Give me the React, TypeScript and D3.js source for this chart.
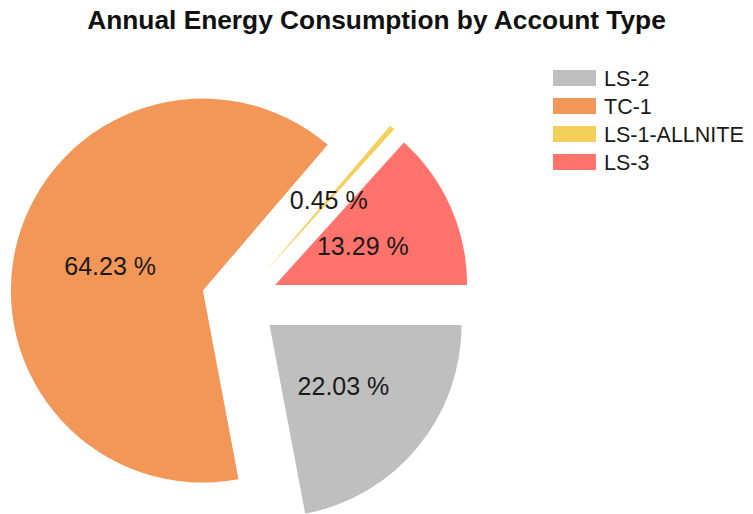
import React, { useEffect, useRef } from "react";
import * as d3 from "d3";

const accountTypes = ["LS-2", "TC-1", "LS-1-ALLNITE", "LS-3"];
const shares = [22.03, 64.23, 0.45, 13.29];
const sliceColors = ["#bfbfbf", "#f39758", "#f5cf5a", "#ff736c"];

const App = () => {
  const ref = useRef<SVGSVGElement | null>(null);

  useEffect(() => {
    const width = 753;
    const height = 514;
    const radius = 192;
    const pull = 0.2 * radius; // exploded slices
    const cx = 240;
    const cy = 300.5;

    const svg = d3.select(ref.current);
    svg.selectAll("*").remove();
    svg
      .attr("width", width)
      .attr("height", height)
      .attr("font-family", "'Liberation Sans', Arial, sans-serif");

    svg.append("text")
      .attr("x", width / 2)
      .attr("y", 29)
      .attr("text-anchor", "middle")
      .attr("font-size", 26.3)
      .attr("font-weight", "bold")
      .attr("fill", "#111")
      .text("Annual Energy Consumption by Account Type");

    const data = accountTypes.map((name, i) => ({ name, value: shares[i], color: sliceColors[i] }));

    const pie = d3.pie<any>()
      .sort(null)
      .value(d => d.value)
      .startAngle(Math.PI / 2)
      .endAngle(Math.PI / 2 + 2 * Math.PI);

    const arc = d3.arc<any>().innerRadius(0).outerRadius(radius);
    const arcs = pie(data);
    const mid = (d: any) => (d.startAngle + d.endAngle) / 2;

    const g = svg.append("g").attr("transform", `translate(${cx},${cy})`);

    g.selectAll("path")
      .data(arcs)
      .join("path")
        .attr("transform", d => `translate(${pull * Math.sin(mid(d))},${-pull * Math.cos(mid(d))})`)
        .attr("d", arc)
        .attr("fill", d => d.data.color);

    // labels on top of every slice
    const labelR = pull + 0.5 * radius;
    g.selectAll("text")
      .data(arcs)
      .join("text")
        .attr("x", d => labelR * Math.sin(mid(d)))
        .attr("y", d => -labelR * Math.cos(mid(d)))
        .attr("text-anchor", "middle")
        .attr("dominant-baseline", "central")
        .attr("font-size", 25)
        .attr("fill", "#1a1a1a")
        .text(d => `${d.data.value.toFixed(2)} %`);

    // legend
    const legend = svg.append("g").attr("transform", "translate(553,70)");
    const item = legend.selectAll("g")
      .data(data)
      .join("g")
        .attr("transform", (d, i) => `translate(0,${i * 28})`);

    item.append("rect")
      .attr("width", 43)
      .attr("height", 16)
      .attr("fill", d => d.color);

    item.append("text")
      .attr("x", 51)
      .attr("y", 9)
      .attr("dominant-baseline", "central")
      .attr("font-size", 21.5)
      .attr("fill", "#1a1a1a")
      .text(d => d.name);
  }, []);

  return (
    <div style={{ position: "absolute", left: 0, top: 0 }}>
      <svg ref={ref}></svg>
    </div>
  );
};

export default App;
